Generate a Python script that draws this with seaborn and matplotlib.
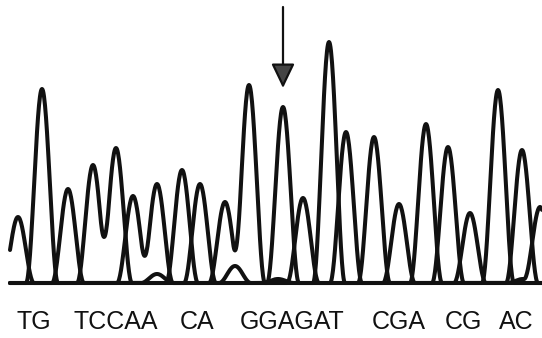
import numpy as np
import pandas as pd
import matplotlib
matplotlib.use("Agg")
import matplotlib.pyplot as plt
import seaborn as sns

# Called peaks of the trace: scan position, signal height, base
peak_pos = [18, 42, 68, 93, 116, 133, 157, 182, 200, 225, 249, 283,
            303, 329, 346, 374, 399, 426, 448, 470, 498, 522, 540]
peak_height = [66, 194, 94, 118, 135, 87, 99, 113, 99, 81, 198, 176,
               85, 241, 151, 146, 79, 159, 136, 70, 193, 133, 76]
peak_base = ["T", "G", "T", "C", "C", "A", "A", "C", "A", "G", "G", "A",
             "G", "A", "T", "C", "G", "A", "C", "G", "A", "C", "T"]

# Small background peaks of the other channels
minor_pos = [157, 235, 278, 523]
minor_height = [9, 17, 4, 4]
minor_base = ["G", "C", "C", "T"]

# Base calls printed under the trace, grouped as words
seq_words = ["TG", "TCCAA", "CA", "GGAGAT", "CGA", "CG", "AC"]

# The peak marked by the arrow (index into the called peaks)
marked_peak = 11

# Layout (pixel-like data units)
word_centers = [34, 116, 197, 292, 399, 463, 516]
HALF_WIDTH = 16
X_MIN, X_MAX = 10, 542

sns.set_theme(style="white")
plt.rcParams["font.family"] = ["Liberation Sans", "DejaVu Sans"]


def peak_shape(x, center, height):
    """Raised-cosine peak profile used to render each called peak."""
    d = np.abs(x - center) / HALF_WIDTH
    return np.where(d < 1, height * 0.5 * (1 + np.cos(np.pi * d)), 0.0)


scan = np.arange(X_MIN, X_MAX + 0.5, 0.5)
frames = []
for base in "ACGT":
    signal = np.zeros_like(scan, dtype=float)
    for p, h, b in zip(peak_pos + minor_pos, peak_height + minor_height,
                       peak_base + minor_base):
        if b == base:
            signal += peak_shape(scan, p, h)
    frames.append(pd.DataFrame({"scan": scan, "signal": signal, "base": base}))
traces = pd.concat(frames, ignore_index=True)

fig = plt.figure(figsize=(5.42, 3.38), dpi=100)
ax = fig.add_axes([0, 0, 1, 1])

sns.lineplot(data=traces, x="scan", y="signal", hue="base",
             palette={b: "#111111" for b in "ACGT"}, estimator=None,
             sort=False, linewidth=2.9, legend=False, ax=ax)

ax.set_xlim(0, 542)
ax.set_ylim(-55, 283)
ax.set_axis_off()

# Arrow pointing at the marked peak
mx = peak_pos[marked_peak]
mh = peak_height[marked_peak]
ax.annotate("", xy=(mx, mh + 19), xytext=(mx, 276),
            arrowprops=dict(arrowstyle="-|>,head_length=0.75,head_width=0.36",
                            mutation_scale=20, lw=1.6, ec="#111111",
                            fc="#444444", shrinkA=0, shrinkB=0))

# Sequence text
for word, cx in zip(seq_words, word_centers):
    ax.text(cx, -46, word, ha="center", va="baseline", fontsize=18,
            color="#111111")

fig.savefig("out.png", dpi=100)
